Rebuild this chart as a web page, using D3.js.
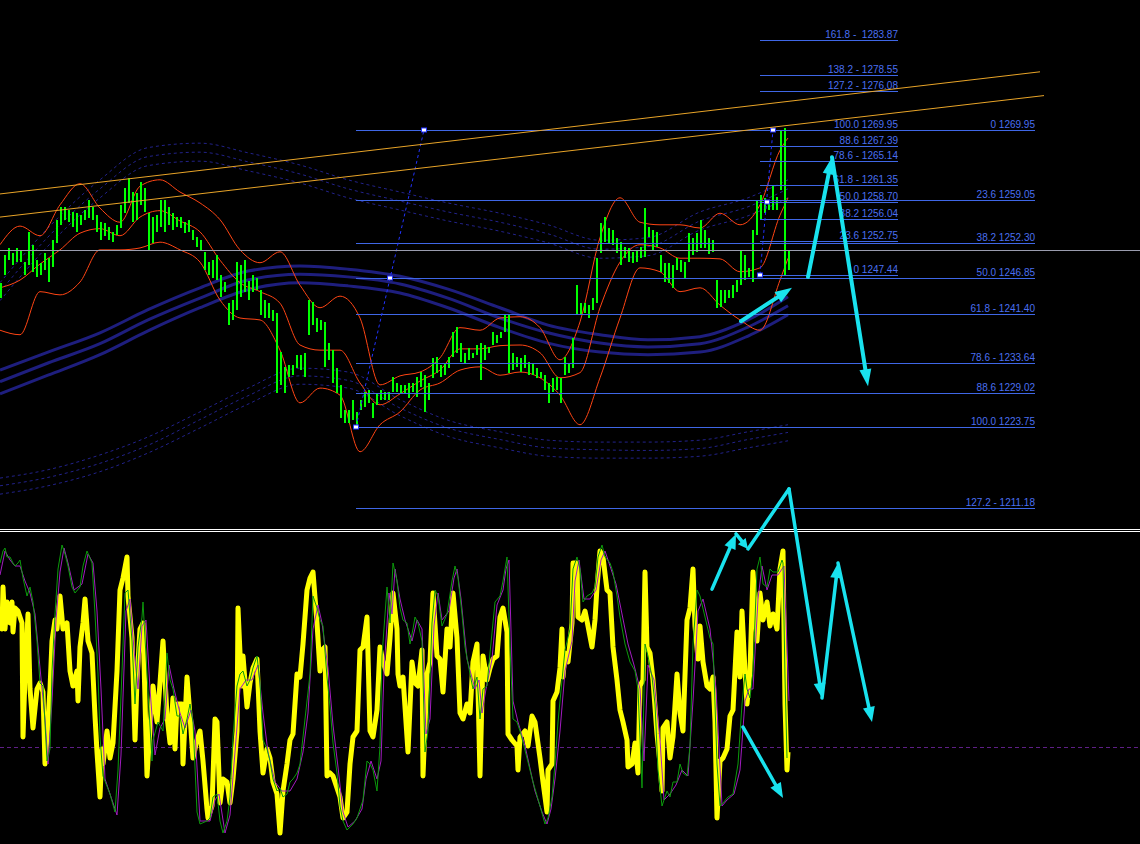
<!DOCTYPE html>
<html><head><meta charset="utf-8">
<script src="https://cdn.jsdelivr.net/npm/d3@7"></script>
<style>html,body{margin:0;padding:0;background:#000;overflow:hidden}svg{display:block}</style>
</head><body><svg id="c" width="1140" height="844"></svg>
<script>
// ---------------- DATA ----------------
// price bars (one bar every 2 time units, starting at unit 0.5)
const barHigh=[1246.1,1250.5,1251.6,1250.8,1251.6,1251.3,1249.4,1254.1,1252.1,1249.7,1249.3,1250.8,1250.0,1252.8,1255.9,1258.0,1258.0,1257.5,1257.2,1257.0,1256.7,1257.5,1259.1,1258.0,1256.7,1255.6,1255.5,1254.9,1254.1,1255.2,1258.3,1260.9,1262.5,1260.3,1260.1,1261.9,1260.9,1257.0,1256.4,1256.7,1259.1,1259.1,1258.0,1257.0,1256.4,1256.4,1255.6,1255.9,1254.4,1253.3,1252.8,1251.0,1249.4,1249.7,1250.5,1247.4,1246.3,1243.0,1243.5,1249.4,1249.0,1249.7,1246.5,1247.4,1246.9,1245.1,1243.5,1243.0,1242.0,1241.5,1235.4,1233.1,1233.4,1233.4,1234.9,1234.9,1235.3,1243.5,1243.2,1240.7,1240.4,1240.1,1236.8,1235.7,1232.9,1230.3,1226.4,1226.4,1228.0,1226.1,1228.0,1229.2,1229.5,1227.5,1229.0,1229.5,1229.2,1229.2,1231.5,1230.6,1230.3,1230.3,1230.6,1230.6,1231.5,1232.3,1231.8,1230.6,1234.5,1234.6,1233.4,1233.7,1234.6,1238.5,1239.3,1236.8,1235.3,1236.0,1235.3,1236.5,1236.8,1236.5,1236.2,1238.5,1238.1,1238.5,1241.2,1241.2,1235.3,1234.6,1234.5,1234.9,1233.9,1233.7,1232.9,1232.3,1231.8,1230.6,1231.4,1231.5,1231.4,1234.6,1233.7,1237.6,1245.8,1243.0,1243.0,1242.7,1243.8,1250.0,1255.5,1256.4,1254.7,1254.4,1253.2,1252.5,1251.7,1251.6,1251.0,1251.3,1251.7,1257.8,1254.9,1254.4,1254.1,1250.5,1249.3,1249.3,1249.0,1250.0,1249.7,1249.4,1253.9,1253.2,1253.9,1255.9,1254.4,1253.2,1252.8,1246.6,1245.1,1245.1,1245.1,1245.8,1246.6,1251.3,1250.5,1248.5,1254.4,1259.1,1259.8,1259.4,1259.1,1261.4,1259.5,1270.0,1270.3,1251.3];
const barLow=[1243.8,1247.4,1249.7,1249.0,1249.4,1249.4,1247.4,1249.0,1247.9,1247.1,1247.4,1248.2,1246.3,1248.6,1252.4,1255.2,1255.9,1255.6,1254.9,1254.1,1255.2,1255.9,1256.3,1255.9,1254.1,1252.8,1253.5,1252.8,1252.5,1253.6,1254.7,1257.0,1258.6,1255.6,1255.9,1258.3,1257.2,1251.3,1252.4,1254.1,1254.9,1254.1,1255.2,1254.4,1254.9,1254.7,1253.9,1254.1,1252.8,1251.7,1251.3,1248.2,1247.4,1246.9,1246.6,1244.0,1244.7,1239.6,1240.4,1242.0,1244.0,1244.7,1243.5,1244.7,1245.1,1241.2,1240.7,1240.7,1240.2,1229.0,1230.3,1229.0,1231.5,1231.8,1232.9,1232.6,1231.5,1238.1,1239.6,1238.5,1238.8,1233.1,1234.2,1230.6,1229.0,1225.2,1224.4,1224.4,1224.8,1224.1,1226.4,1226.9,1227.5,1225.2,1227.2,1228.0,1228.0,1228.0,1229.2,1229.2,1229.0,1229.0,1228.3,1229.2,1228.4,1230.0,1226.1,1228.0,1231.4,1232.1,1231.5,1231.8,1232.9,1234.6,1235.3,1233.9,1233.7,1234.2,1234.5,1234.9,1231.1,1234.2,1235.3,1236.5,1236.8,1237.6,1238.5,1232.1,1232.6,1233.1,1232.3,1232.9,1231.8,1231.8,1231.4,1231.4,1229.5,1227.5,1229.2,1229.5,1227.5,1231.8,1232.1,1232.9,1241.2,1241.2,1241.5,1240.7,1242.0,1243.0,1250.8,1252.5,1252.4,1252.1,1250.8,1249.0,1250.0,1249.4,1249.3,1249.4,1250.0,1250.2,1253.3,1251.3,1251.7,1247.9,1246.3,1246.1,1245.4,1248.2,1247.9,1246.9,1249.4,1250.5,1251.0,1251.6,1251.6,1250.7,1251.0,1242.3,1242.4,1243.0,1243.8,1243.8,1244.7,1245.8,1246.6,1247.1,1246.3,1253.6,1255.9,1257.0,1257.5,1257.5,1257.5,1260.6,1247.4,1248.2];

// Bollinger bands (time units)
const bbU=[0,10,20,30,40,50,60,70,80,90,100,110,120,130,140,150,160,170,180,190,200,210,220,230,240,250,260,270,280,290,300,310,320,330,340,350,360,370,380,390,394];
const bbUpper=[1252.1,1255.0,1253.5,1258.3,1261.6,1257.8,1255.6,1261.2,1262.2,1260.3,1258.6,1256.0,1251.3,1249.3,1251.0,1245.8,1242.3,1244.1,1240.7,1230.3,1231.7,1232.3,1234.5,1239.2,1238.8,1240.7,1240.9,1239.2,1234.2,1240.1,1253.2,1259.4,1255.6,1255.2,1255.2,1254.7,1257.0,1255.2,1258.3,1266.8,1268.7];
const bbMiddle=[1245.4,1246.6,1249.1,1251.3,1253.9,1254.6,1253.5,1256.4,1257.4,1255.8,1254.1,1249.7,1246.2,1244.8,1243.0,1236.5,1235.7,1235.7,1230.6,1227.2,1228.9,1230.9,1232.6,1235.9,1235.9,1236.4,1236.5,1235.3,1231.4,1232.2,1242.3,1249.4,1252.1,1251.6,1250.0,1250.0,1249.9,1247.9,1248.5,1256.7,1259.4];
const bbLower=[1238.8,1238.1,1244.8,1244.3,1246.3,1251.3,1251.3,1251.6,1252.5,1251.3,1249.4,1243.5,1240.7,1240.4,1235.7,1227.5,1229.8,1228.7,1219.9,1224.1,1226.1,1229.5,1230.6,1232.6,1233.1,1231.8,1232.3,1231.4,1228.7,1224.1,1231.4,1240.7,1248.5,1247.9,1244.8,1245.4,1242.7,1240.4,1238.8,1246.6,1250.0];

// moving-average envelopes (time units)
const maU=[0,24,50,74,100,124,150,174,200,224,250,274,300,324,350,374,394];
const ma1=[1232.6,1235.4,1238.4,1242.0,1245.4,1248.0,1248.8,1248.3,1247.2,1245.2,1242.3,1239.6,1238.1,1237.3,1237.8,1240.4,1244.0];
const ma2=[1230.8,1233.7,1236.7,1240.4,1243.8,1246.6,1247.5,1247.1,1246.0,1243.8,1240.7,1238.4,1236.8,1236.2,1236.7,1239.3,1242.6];
const ma3=[1228.9,1231.8,1235.0,1238.7,1242.3,1245.1,1246.2,1245.7,1244.6,1242.3,1239.2,1236.8,1235.4,1235.0,1235.4,1237.9,1241.2];
const envUp1=[1246.2,1254.7,1262.2,1267.2,1267.9,1266.4,1264.5,1262.2,1260.3,1258.6,1257.0,1255.2,1252.8,1253.2,1257.2,1259.4,1262.2];
const envUp2=[1244.8,1253.3,1260.8,1265.8,1266.5,1265.0,1263.1,1260.8,1258.9,1257.2,1255.6,1253.8,1251.4,1251.8,1255.8,1258.0,1260.8];
const envUp3=[1243.4,1251.9,1259.4,1264.4,1265.1,1263.6,1261.7,1259.4,1257.5,1255.8,1254.2,1252.4,1250.0,1250.4,1254.4,1256.6,1259.4];
const envDn1=[1215.8,1217.1,1219.4,1222.2,1226.1,1229.8,1232.9,1232.3,1228.0,1224.8,1223.0,1221.7,1221.4,1221.4,1221.7,1223.0,1224.1];
const envDn2=[1214.6,1215.9,1218.1,1220.9,1224.9,1228.6,1231.7,1231.0,1226.7,1223.6,1221.8,1220.5,1220.2,1220.1,1220.4,1221.8,1222.9];
const envDn3=[1213.3,1214.6,1216.8,1219.7,1223.6,1227.3,1230.4,1229.8,1225.5,1222.3,1220.5,1219.2,1218.9,1218.9,1219.2,1220.5,1221.6];

// Fibonacci retracement sets
const fib1Price=[1283.87,1278.55,1276.08,1269.95,1267.39,1265.14,1261.35,1258.70,1256.04,1252.75,1247.44];
const fib1Label=['161.8 -  1283.87','138.2 - 1278.55','127.2 - 1276.08','100.0 1269.95','88.6 1267.39','78.6 - 1265.14','61.8 - 1261.35','50.0 1258.70','38.2 1256.04','23.6 1252.75','0 1247.44'];
const fib1Span=[380,449];
const fib1Anchor=[[380,1247.44],[386.5,1269.95]];
const fib2Price=[1269.95,1259.05,1252.30,1246.85,1241.40,1233.64,1229.02,1223.75,1211.18];
const fib2Label=['0 1269.95','23.6 1259.05','38.2 1252.30','50.0 1246.85','61.8 - 1241.40','78.6 - 1233.64','88.6 1229.02','100.0 1223.75','127.2 - 1211.18'];
const fib2Span=[178,517.5];
const fib2Anchor=[[178,1223.75],[212,1269.95]];

// trend lines & bid
const trendUpper=[[0,1260.0],[520,1279.0]];
const trendLower=[[0,1256.4],[522,1275.3]];
const bidPrice=1251.3;

// oscillator (time unit, value)
const oscFast=[[0,79],[1,72],[1.5,86],[2.5,72],[3.5,81],[5,74],[6,81],[6.5,71],[7.5,79],[9,78],[11,74],[11.5,36],[12.5,56],[14,77],[15,52],[16.5,39],[18.5,52],[20,54],[21.5,51],[22.5,27],[23.5,36],[25,52],[26,68],[27.5,75],[28.5,72],[30,83],[31.5,72],[33.5,74],[35,58],[36.5,53],[38.5,58],[39,48],[40,66],[41.5,74],[42.5,82],[44,68],[46,64],[47.5,43],[48.5,31],[50,16],[51,32],[51.5,27],[53.5,38],[55,29],[56.5,34],[58.5,58],[60,85],[61.5,89],[63.5,96],[64,83],[66,69],[67.5,35],[68.5,55],[70,72],[71.5,74],[73.5,23],[75,39],[76.5,53],[78.5,41],[80,54],[81.5,68],[83.5,43],[85,34],[86.5,49],[87.5,32],[88.5,47],[91,47],[91.5,27],[93.5,56],[95,43],[96.5,29],[98.5,35],[100,38],[101.5,28],[103.5,12],[104,9],[106,13],[107.5,42],[108.5,41],[110,14],[111.5,22],[113.5,21],[115,14],[116.5,22],[118.5,38],[119,79],[120,64],[121,53],[121.5,63],[123.5,46],[125,54],[126.5,59],[128.5,62],[130,38],[131.5,24],[133.5,32],[135,29],[136.5,21],[138.5,17],[140,4],[141.5,18],[143.5,27],[145,35],[146.5,37],[148.5,57],[150,56],[151.5,67],[153.5,85],[155,89],[156.5,91],[158.5,74],[160,58],[161,65],[162.5,66],[163.5,23],[165,24],[166.5,23],[168.5,19],[170,16],[171.5,9],[173.5,11],[175,27],[176.5,36],[178.5,38],[180,65],[181.5,66],[183.5,76],[185,38],[186.5,36],[188.5,45],[190,66],[191.5,61],[193.5,57],[195,69],[196.5,84],[198.5,72],[199,57],[200,53],[201.5,56],[204,31],[206,61],[207.5,54],[209,53],[211,65],[211.5,23],[213.5,57],[215,61],[216.5,84],[218.5,63],[220,62],[221.5,51],[223.5,72],[225,66],[226.5,84],[228.5,69],[230,44],[231.5,42],[233.5,47],[235,44],[236.5,61],[238.5,67],[240,23],[241.5,63],[243.5,55],[245,59],[246.5,62],[248.5,63],[250,76],[251.5,79],[253.5,71],[254,37],[256,35],[258.5,33],[259,25],[260,36],[262.5,38],[264,33],[266,43],[267.5,41],[270,29],[271.5,21],[273.5,11],[274,25],[276,27],[276.5,48],[278.5,51],[280,59],[281,72],[281.5,56],[282.5,64],[284,61],[286,74],[286.5,94],[288.5,94],[289,76],[291,75],[292.5,78],[294,73],[296,66],[297.5,75],[298.5,86],[300,98],[301.5,96],[303.5,85],[305,84],[306.5,66],[308.5,55],[310,45],[311.5,41],[313.5,35],[314,26],[316,27],[317.5,34],[319,24],[320,53],[321.5,55],[322.5,91],[323.5,66],[325,64],[326.5,55],[328.5,37],[330,27],[331,18],[331.5,39],[333.5,41],[335,29],[336.5,36],[338.5,57],[340,44],[341.5,38],[343.5,75],[345,79],[346.5,92],[347.5,73],[349,62],[350,73],[351.5,61],[353.5,53],[355,52],[356.5,56],[357.5,41],[358.5,9],[360,28],[361.5,29],[363.5,32],[365,43],[366.5,45],[368.5,71],[370,56],[371,78],[372.5,58],[373.5,47],[375,58],[376.5,91],[378.5,68],[380,84],[381.5,75],[383.5,81],[385,73],[386.5,77],[388.5,72],[390,92],[391.5,98],[392.5,47],[393.5,25],[394,31]];
const oscSignalG=[[0,94],[1.5,98],[2.5,99],[3.5,96],[5,96],[6.5,94],[7.5,93],[9,94],[10,95],[11.5,89],[13.5,83],[15,86],[16.5,81],[18.5,68],[20,54],[21.5,53],[23.5,28],[25,32],[26,58],[27.5,77],[29,92],[31,100],[32.5,97],[34,93],[36,86],[37.5,84],[40,86],[41.5,93],[43.5,98],[46,94],[47.5,77],[49,57],[50,36],[51.5,23],[55,17],[57.5,11],[59,25],[61,58],[62.5,84],[64,85],[66,68],[67.5,47],[69,66],[71,76],[71.5,81],[73.5,57],[76,28],[76.5,35],[79,41],[81.5,38],[83.5,64],[85,55],[86.5,52],[88.5,43],[90,43],[91.5,37],[93.5,42],[95,47],[96.5,41],[98.5,11],[100,7],[103.5,8],[105,9],[106.5,16],[108.5,17],[110,8],[111.5,4],[113.5,8],[115,16],[116.5,36],[118.5,53],[120,57],[121.5,58],[123.5,53],[125,55],[126.5,59],[128.5,63],[130,54],[131.5,35],[133.5,32],[135,28],[136.5,22],[138.5,18],[140,19],[141.5,16],[143.5,17],[145,21],[146.5,22],[148.5,24],[150,27],[151.5,36],[153.5,48],[155,57],[156.5,83],[158.5,79],[160,75],[161.5,73],[163.5,56],[165,46],[166.5,34],[168.5,24],[170,13],[171.5,8],[173.5,5],[175,6],[176.5,7],[178.5,9],[180,12],[181.5,15],[183.5,28],[185,27],[186.5,25],[188.5,18],[190,33],[191,63],[193.5,86],[195,74],[196.5,94],[198.5,88],[200,79],[201.5,75],[203.5,74],[205,67],[206.5,72],[207.5,76],[209,74],[211,68],[212.5,31],[214,38],[216,74],[217.5,85],[219,83],[221,73],[223.5,77],[226,88],[227.5,93],[229,89],[231,77],[232.5,66],[235,57],[236.5,52],[238.5,56],[240,42],[241.5,52],[243.5,53],[245,64],[247.5,81],[250,83],[251.5,88],[253.5,96],[255,66],[256.5,42],[258.5,41],[260,38],[263.5,29],[266.5,21],[270,13],[272.5,7],[274,9],[276,16],[277.5,27],[279,41],[281,55],[282.5,65],[285,72],[286.5,92],[288.5,96],[290,92],[291.5,81],[293.5,83],[296,84],[297.5,86],[299,96],[301,100],[302.5,96],[305,94],[306.5,91],[308.5,83],[310,76],[312.5,67],[315,61],[317.5,58],[319,52],[321,19],[322.5,67],[324,63],[326,56],[327.5,47],[329,25],[331,13],[333.5,18],[335,16],[336.5,21],[338.5,21],[340,27],[341.5,24],[343.5,23],[345,33],[346.5,67],[348.5,85],[350,83],[352.5,76],[355,69],[356.5,67],[358.5,27],[360,13],[361.5,14],[364,16],[366.5,17],[369,27],[371,47],[372.5,57],[373.5,52],[375,49],[376.5,58],[378.5,92],[380,96],[381.5,87],[383.5,86],[385,92],[386.5,91],[389,91],[391,95],[391.5,94],[392.5,56],[393.5,29]];
const oscSignalP=[[0,90],[2.5,98],[5,95],[7.5,93],[10,93],[12.5,88],[15,84],[17.5,77],[20,59],[22.5,42],[24,27],[26,48],[28,75],[30,91],[32,99],[34,94],[37,85],[41,87],[44,97],[46.5,94],[48.5,78],[50.5,52],[52.5,22],[56,15],[58.5,10],[60.5,30],[63,78],[65,82],[67,65],[69,52],[71,73],[73,75],[75,52],[77.5,30],[80,39],[82.5,42],[84.5,60],[87,52],[90,44],[92.5,39],[95.5,45],[97.5,38],[100,8],[105,8],[107.5,15],[109.5,17],[112.5,4],[115,10],[117.5,31],[120,52],[123,55],[126,55],[129,60],[131.5,44],[134,31],[137.5,21],[141,18],[145,18],[148.5,22],[151.5,31],[154,44],[156.5,72],[159,80],[161,74],[164,59],[166.5,40],[169,26],[171.5,11],[174,6],[177.5,8],[181,12],[183,22],[185.5,28],[188.5,22],[190.5,28],[192,58],[194.5,84],[196,77],[197.5,92],[200,82],[202.5,75],[206,68],[208.5,75],[211,72],[213,37],[215,42],[217,73],[219,84],[221,75],[224.5,78],[227,89],[228.5,92],[230.5,82],[233.5,62],[237.5,52],[239.5,55],[241,44],[243,52],[246,62],[248.5,80],[251.5,85],[253,92],[254.5,95],[256.5,48],[259,41],[262.5,33],[267.5,18],[271,11],[273.5,7],[275.5,12],[277.5,22],[280,38],[282.5,58],[286,68],[287.5,88],[289.5,95],[292,82],[295,82],[298,85],[300.5,95],[302.5,98],[305,93],[308,87],[311,77],[314,67],[317,60],[320,52],[322,28],[324,60],[327,55],[330,35],[332,15],[335,17],[338,20],[341,25],[344,23],[346.5,48],[349,78],[351.5,82],[355,72],[358,52],[361,13],[363.5,15],[367,17],[370,25],[372.5,48],[374.5,52],[376.5,52],[379,82],[381,93],[383.5,85],[386,90],[389,90],[392,93],[393,75],[394.5,48]];
const oscLevel=32.7;

// hand-drawn forecast arrows
const priceArrows=[[[370.5,1240.2],[396,1245.4]],[[404,1247.1],[416,1265.7]],[[416,1265.7],[434,1230.1]]];
const oscArrows=[[[356,85.3],[368,103.7]],[[368,103.7],[374,98.7]],[[374,98.7],[394.5,118.7]],[[394.5,118.7],[411,49]],[[411,49],[419,94]],[[419,94],[436,41]],[[371.5,39.3],[391.5,15.7]]];

// ---------------- DRAW ----------------
const W=1140,H=844;
const svg=d3.select('#c');
svg.append('rect').attr('width',W).attr('height',H).attr('fill','#000');
const x=d3.scaleLinear().domain([0,395]).range([0,790]);
const y=d3.scaleLinear().domain([1208.19,1290.17]).range([527,0]);
const yo=d3.scaleLinear().domain([0,100]).range([845,545]);

const main=svg.append('g');
const lineP=(us,vs,curve)=>d3.line().x((d,i)=>x(us[i])).y(d=>y(d)).curve(curve||d3.curveLinear)(vs);

// dashed envelopes
[envUp1,envUp2,envUp3,envDn1,envDn2,envDn3].forEach(a=>{
  main.append('path').attr('d',lineP(maU,a,d3.curveMonotoneX)).attr('fill','none')
    .attr('stroke','#22228a').attr('stroke-width',1).attr('stroke-dasharray','3,3');
});
// solid MA
[ma1,ma2,ma3].forEach(a=>{
  main.append('path').attr('d',lineP(maU,a,d3.curveMonotoneX)).attr('fill','none')
    .attr('stroke','#1e1e7e').attr('stroke-width',3);
});
// Bollinger
[bbUpper,bbMiddle,bbLower].forEach(a=>{
  main.append('path').attr('d',lineP(bbU,a,d3.curveMonotoneX)).attr('fill','none')
    .attr('stroke','#ff4514').attr('stroke-width',1);
});
// bars
main.append('g').selectAll('rect').data(barHigh).join('rect')
  .attr('x',(d,i)=>x(2*i+0.5)-1).attr('width',2)
  .attr('y',d=>y(d)).attr('height',(d,i)=>Math.max(1,y(barLow[i])-y(d)))
  .attr('fill','#00ff00').attr('shape-rendering','crispEdges');

// Fib lines
const FB='#3f67e6';
function fibSet(prices,labels,span){
  prices.forEach((p,i)=>{
    main.append('line').attr('x1',x(span[0])).attr('x2',x(span[1])).attr('y1',Math.round(y(p))+0.5).attr('y2',Math.round(y(p))+0.5)
      .attr('stroke',FB).attr('stroke-width',1);
    main.append('text').attr('x',x(span[1])).attr('y',Math.round(y(p))-2).attr('text-anchor','end')
      .attr('font-family','Liberation Sans, Arial, sans-serif').attr('font-size',10).attr('fill','#4a6ff0')
      .style('white-space','pre').text(labels[i]);
  });
}
fibSet(fib2Price,fib2Label,fib2Span);
fibSet(fib1Price,fib1Label,fib1Span);
// fib anchors
[fib2Anchor,fib1Anchor].forEach(a=>{
  main.append('line').attr('x1',x(a[0][0])).attr('y1',y(a[0][1])).attr('x2',x(a[1][0])).attr('y2',y(a[1][1]))
    .attr('stroke','#2233ff').attr('stroke-width',1).attr('stroke-dasharray','3,3');
  const mid=[(a[0][0]+a[1][0])/2,(a[0][1]+a[1][1])/2];
  [a[0],a[1],mid].forEach(p=>{
    main.append('rect').attr('x',Math.round(x(p[0]))-2.5).attr('y',Math.round(y(p[1]))-2).attr('width',5).attr('height',4)
      .attr('fill','#fff').attr('stroke','#2233ff').attr('stroke-width',1);
  });
});
// trend lines
[trendUpper,trendLower].forEach(t=>{
  main.append('line').attr('x1',x(t[0][0])).attr('y1',y(t[0][1])).attr('x2',x(t[1][0])).attr('y2',y(t[1][1]))
    .attr('stroke','#e8a428').attr('stroke-width',1);
});
// bid line
main.append('line').attr('x1',0).attr('x2',W).attr('y1',Math.round(y(bidPrice))+0.5).attr('y2',Math.round(y(bidPrice))+0.5)
  .attr('stroke','#9a9cae').attr('stroke-width',1);

// separator
svg.append('line').attr('x1',0).attr('x2',W).attr('y1',529.5).attr('y2',529.5).attr('stroke','#fff');
svg.append('line').attr('x1',0).attr('x2',W).attr('y1',531.5).attr('y2',531.5).attr('stroke','#fff');

// oscillator
const osc=svg.append('g');
osc.append('line').attr('x1',0).attr('x2',W).attr('y1',Math.round(yo(oscLevel))+0.5).attr('y2',Math.round(yo(oscLevel))+0.5)
  .attr('stroke','#5e1f86').attr('stroke-dasharray','4,3');
const lo=d3.line().x(d=>x(d[0])).y(d=>yo(d[1]));
osc.append('path').attr('d',lo(oscFast)).attr('fill','none').attr('stroke','#ffff00').attr('stroke-width',5).attr('stroke-linejoin','round');
osc.append('path').attr('d',lo(oscSignalP)).attr('fill','none').attr('stroke','#a21cc0').attr('stroke-width',1);
osc.append('path').attr('d',lo(oscSignalG)).attr('fill','none').attr('stroke','#0c9a0c').attr('stroke-width',1);

// arrows
const CY='#19e2ee';
function arrow(a,b,head,w,hl,hw){
  const dx=b[0]-a[0],dy=b[1]-a[1],L=Math.hypot(dx,dy),ux=dx/L,uy=dy/L;
  const ex=head?b[0]-ux*hl*0.7:b[0], ey=head?b[1]-uy*hl*0.7:b[1];
  svg.append('line').attr('x1',a[0]).attr('y1',a[1]).attr('x2',ex).attr('y2',ey)
    .attr('stroke',CY).attr('stroke-width',w).attr('stroke-linecap','round');
  if(head){
    const bx=b[0]-ux*hl,by=b[1]-uy*hl;
    svg.append('path').attr('d',`M${b[0]},${b[1]}L${bx-uy*hw},${by+ux*hw}L${bx+uy*hw},${by-ux*hw}Z`).attr('fill',CY);
  }
}
priceArrows.forEach(s=>arrow([x(s[0][0]),y(s[0][1])],[x(s[1][0]),y(s[1][1])],true,4,17,6));
oscArrows.forEach((s,i)=>arrow([x(s[0][0]),yo(s[0][1])],[x(s[1][0]),yo(s[1][1])],i!==2,3.5,i===1?10:15,i===1?5:6));
</script></body></html>
